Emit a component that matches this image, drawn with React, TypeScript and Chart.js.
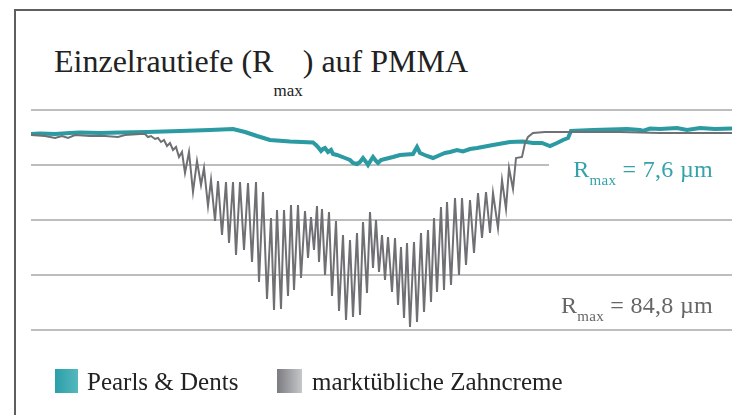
import React, { useEffect, useRef } from 'react';
import { Chart, registerables } from 'chart.js';

Chart.register(...registerables);

// Profile position along the scan (arbitrary length units) and depth (arbitrary depth units, 0 = top grid line)
const pearlsX = [0, 9, 24, 39, 49, 69, 89, 116, 149, 179, 202, 214, 226, 239, 259, 282, 285, 287, 290, 292, 294, 297, 300, 302, 306, 314, 319, 322, 326, 329, 332, 335, 337, 340, 342, 345, 347, 350, 354, 362, 369, 382, 386, 389, 396, 402, 409, 414, 419, 426, 432, 439, 446, 462, 479, 492, 502, 511, 519, 526, 532, 537, 540, 562, 579, 596, 609, 612, 619, 629, 646, 656, 669, 684, 701];
const pearlsDepth = [24, 23.5, 24, 23, 22.5, 23, 22.5, 22, 21, 20, 19, 22, 26, 30, 31.5, 32.5, 35, 37, 41, 39, 38, 42, 40, 44, 45, 48, 50, 53, 54, 52, 48, 52, 55, 50, 47, 51, 53, 50, 49, 47, 45, 44, 37, 43, 46, 48, 45, 43, 42, 40, 41.5, 39, 38, 35, 32, 31.5, 33, 33, 36, 33, 30, 28, 21, 20, 19.5, 19, 20, 21, 18.5, 19, 18, 20, 18, 19, 18.5];

const zahncremeX = [0, 14, 24, 31, 37, 44, 59, 74, 87, 94, 109, 114, 117, 120, 124, 127, 130, 133, 136, 139, 142, 145, 148, 151, 154, 158, 162, 166, 170, 173, 177, 180, 184, 187, 191, 195, 198, 202, 205, 209, 213, 217, 221, 225, 228, 232, 236, 240, 243, 246, 250, 253, 257, 260, 263, 267, 270, 274, 277, 280, 283, 286, 288, 291, 294, 298, 301, 305, 308, 312, 315, 319, 322, 326, 329, 332, 336, 339, 342, 345, 348, 351, 354, 357, 361, 364, 367, 370, 373, 376, 379, 383, 386, 390, 393, 397, 400, 403, 406, 410, 413, 416, 420, 424, 428, 431, 435, 439, 443, 447, 451, 455, 459, 462, 467, 471, 475, 478, 482, 485, 491, 494, 497, 502, 514, 549, 589, 629, 669, 701];
const zahncremeDepth = [25, 26, 28, 26, 28, 25, 26, 26, 27, 25, 24, 24, 27, 26, 29, 28, 32, 30, 36, 33, 40, 37, 47, 42, 63, 42, 82, 51, 75, 58, 96, 70, 111, 71, 125, 72, 133, 72, 145, 72, 140, 73, 152, 72, 172, 82, 189, 108, 200, 100, 199, 100, 186, 95, 180, 95, 168, 101, 148, 107, 140, 96, 152, 99, 165, 102, 186, 111, 201, 125, 210, 130, 207, 123, 205, 112, 183, 102, 158, 110, 162, 125, 170, 127, 182, 128, 195, 137, 208, 133, 217, 132, 212, 123, 202, 120, 192, 108, 182, 97, 180, 92, 175, 88, 165, 88, 155, 90, 143, 83, 128, 82, 123, 83, 118, 70, 99, 58, 79, 48, 47, 33, 27, 23, 22, 22, 22, 23, 23, 23];

const depthMin = 0;
const depthMax = 220;
const depthStep = 55;
const xMax = 701;

const seriesNames = ['Pearls & Dents', 'marktübliche Zahncreme'];
const pearlsLabel = { value: '7,6 µm' };
const zahncremeLabel = { value: '84,8 µm' };

const TEAL = '#2b9aa2';
const TEAL_TEXT = '#34a2a9';
const GREY = '#6f7074';
const FONT = "'Liberation Serif', 'DejaVu Serif', serif";

const gapPlugin = {
  id: 'gridGap',
  beforeDatasetsDraw(chart: any) {
    const { ctx, scales, chartArea } = chart;
    const y = scales.y.getPixelForValue(depthStep);
    const x0 = scales.x.getPixelForValue(518);
    ctx.save();
    ctx.fillStyle = '#ffffff';
    ctx.fillRect(x0, y - 4, chartArea.right - x0 + 2, 8);
    ctx.restore();
  },
};

function ChartCanvas() {
  const ref = useRef<HTMLCanvasElement | null>(null);
  useEffect(() => {
    if (!ref.current) return;
    const chart = new Chart(ref.current, {
      type: 'line',
      data: {
        datasets: [
          {
            label: seriesNames[1],
            data: zahncremeX.map((x, i) => ({ x, y: zahncremeDepth[i] })),
            borderColor: GREY,
            borderWidth: 2,
            pointRadius: 0,
            tension: 0,
            order: 0,
          },
          {
            label: seriesNames[0],
            data: pearlsX.map((x, i) => ({ x, y: pearlsDepth[i] })),
            borderColor: TEAL,
            borderWidth: 4,
            pointRadius: 0,
            tension: 0,
            order: 1,
          },
        ],
      },
      options: {
        responsive: false,
        animation: false,
        devicePixelRatio: 1,
        events: [],
        layout: { padding: { left: 31, top: 110, right: 0, bottom: 85 } },
        plugins: {
          legend: { display: false },
          tooltip: { enabled: false },
          title: { display: false },
        },
        scales: {
          x: { type: 'linear', min: 0, max: xMax, display: false },
          y: {
            type: 'linear',
            min: depthMin,
            max: depthMax,
            reverse: true,
            ticks: { display: false, stepSize: depthStep },
            grid: { color: '#bdbdbd', lineWidth: 2, drawTicks: false },
            border: { display: false },
          },
        },
      } as any,
      plugins: [gapPlugin],
    });
    return () => chart.destroy();
  }, []);
  return (
    <canvas
      ref={ref}
      width={732}
      height={415}
      style={{ position: 'absolute', left: 0, top: 0, width: 732, height: 415 }}
    />
  );
}

export default function App() {
  return (
    <div
      style={{
        position: 'absolute',
        left: 0,
        top: 0,
        width: 732,
        height: 415,
        background: '#ffffff',
        overflow: 'hidden',
        fontFamily: FONT,
      }}
    >
      <div
        style={{
          position: 'absolute',
          left: 14,
          top: 9,
          width: 730,
          height: 420,
          borderLeft: '2px solid #5e5e5e',
          borderTop: '2px solid #5e5e5e',
        }}
      />
      <div
        style={{
          position: 'absolute',
          left: 54,
          top: 45,
          fontSize: 32,
          lineHeight: '32px',
          color: '#222',
          whiteSpace: 'nowrap',
        }}
      >
        Einzelrautiefe (R
        <span style={{ fontSize: 17, position: 'relative', top: 24 }}>max</span>) auf PMMA
      </div>
      <ChartCanvas />
      <div
        style={{
          position: 'absolute',
          right: 19,
          top: 157,
          fontSize: 24,
          lineHeight: '24px',
          color: TEAL_TEXT,
          whiteSpace: 'nowrap',
          letterSpacing: 0.3,
        }}
      >
        R<span style={{ fontSize: 15, position: 'relative', top: 8 }}>max</span> = {pearlsLabel.value}
      </div>
      <div
        style={{
          position: 'absolute',
          right: 19,
          top: 293,
          fontSize: 24,
          lineHeight: '24px',
          color: '#666',
          whiteSpace: 'nowrap',
          letterSpacing: 0.3,
        }}
      >
        R<span style={{ fontSize: 15, position: 'relative', top: 8 }}>max</span> = {zahncremeLabel.value}
      </div>
      <div
        style={{
          position: 'absolute',
          left: 55,
          top: 369,
          width: 23,
          height: 24,
          background: 'linear-gradient(to right, #2a9fa8, #55b8bd)',
        }}
      />
      <div
        style={{
          position: 'absolute',
          left: 87,
          top: 369,
          fontSize: 25,
          lineHeight: '25px',
          color: '#222',
          whiteSpace: 'nowrap',
        }}
      >
        {seriesNames[0]}
      </div>
      <div
        style={{
          position: 'absolute',
          left: 277,
          top: 369,
          width: 25,
          height: 24,
          background: 'linear-gradient(to right, #7b7c80, #c6c7c9)',
        }}
      />
      <div
        style={{
          position: 'absolute',
          left: 312,
          top: 369,
          fontSize: 25,
          lineHeight: '25px',
          color: '#222',
          whiteSpace: 'nowrap',
        }}
      >
        {seriesNames[1]}
      </div>
    </div>
  );
}
